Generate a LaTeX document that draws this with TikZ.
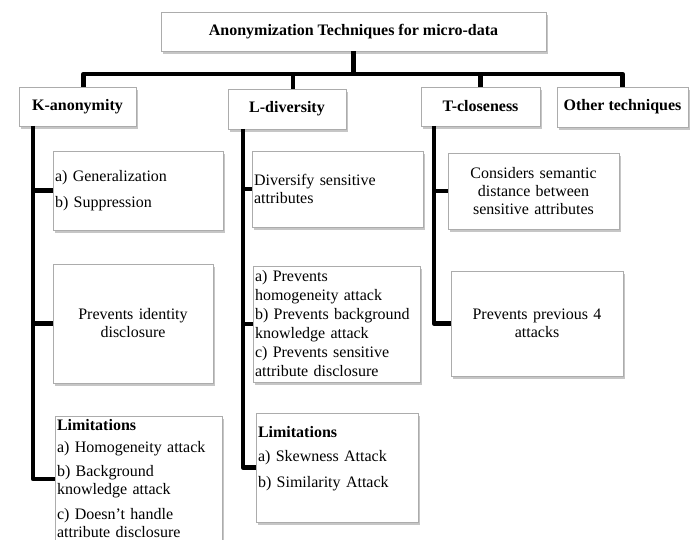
\documentclass[tikz,border=0pt]{standalone}
\usepackage{fontspec}
\setmainfont{Liberation Serif}
\usepackage{tikz}
\usetikzlibrary{shadows}

\begin{document}
\begin{tikzpicture}[x=1pt,y=-1pt,
  box/.style={draw=gray!65,fill=white,line width=0.8pt,
    drop shadow={shadow xshift=2pt,shadow yshift=-3pt,opacity=0.45},
    inner xsep=2pt,inner ysep=0pt,font=\fontsize{16}{18}\selectfont},
  head/.style={box,font=\fontsize{16}{18}\selectfont\bfseries,align=center},
  lbox/.style={box,align=left},
  cbox/.style={box,align=center},
  bar/.style={line width=4.5pt,line join=round}]
\useasboundingbox (0,0) rectangle (696,540);

\node[head,minimum width=385pt,minimum height=39pt] (top) at (353.5,31.5) {Anonymization Techniques for micro-data};

\node[head,minimum width=117pt,minimum height=39pt] (kan) at (77.5,106.5) {K-anonymity};
\node[head,minimum width=118pt,minimum height=40pt] (ldiv) at (287,109) {L-diversity};
\node[head,minimum width=119pt,minimum height=39pt] (tclo) at (480.5,106.5) {T-closeness};
\node[head,minimum width=131pt,minimum height=40pt] (other) at (622.5,107) {Other techniques};

\node[lbox,text width=166pt,minimum height=79pt] (k1) at (138,190.5) {a) Generalization\\[8pt] b) Suppression};
\node[cbox,text width=156pt,minimum height=119pt] (k2) at (133,323.5) {Prevents identity\\ disclosure};
\node[lbox,text width=163pt,minimum height=126pt] (k3) at (138.5,479) {\textbf{Limitations}\\[4pt] a) Homogeneity attack\\[6pt] b) Background\\ knowledge attack\\[7pt] c) Doesn't handle\\ attribute disclosure};

\node[lbox,text width=167pt,minimum height=76pt] (l1) at (337.5,189) {Diversify sensitive\\ attributes};
\node[lbox,text width=163pt,minimum height=116pt] (l2) at (336.5,324) {a) Prevents\\[1pt] homogeneity attack\\[1pt] b) Prevents background\\[1pt] knowledge attack\\[1pt] c) Prevents sensitive\\[1pt] attribute disclosure};
\node[lbox,text width=158pt,minimum height=109pt] (l3) at (337,467.5) {\textbf{Limitations}\\[6pt] a) Skewness Attack\\[8pt] b) Similarity Attack\\[3pt] \mbox{}};

\node[cbox,text width=167pt,minimum height=76pt] (t1) at (533.5,191) {Considers semantic\\ distance between\\ sensitive attributes};
\node[cbox,text width=168pt,minimum height=105pt] (t2) at (537,323.5) {Prevents previous 4\\ attacks};

\coordinate (hub) at (353.5,74);
\coordinate (kr) at (33,126);
\coordinate (lr) at (243,129);
\coordinate (tr) at (434,126);

\draw[bar] (top) -- (hub) -| ([xshift=6pt]kan.north);
\draw[bar] (hub) -| ([xshift=6pt]ldiv.north);
\draw[bar] (hub) -| (tclo.north);
\draw[bar] (hub) -| (other.north);

\draw[bar] (kr) |- (k1.west) (kr) |- (k2.west) (kr) |- (k3.west);
\draw[bar] (lr) |- (l1.west) (lr) |- (l2.west) (lr) |- (l3.west);
\draw[bar] (tr) |- (t1.west) (tr) |- (t2.west);

\end{tikzpicture}
\end{document}
